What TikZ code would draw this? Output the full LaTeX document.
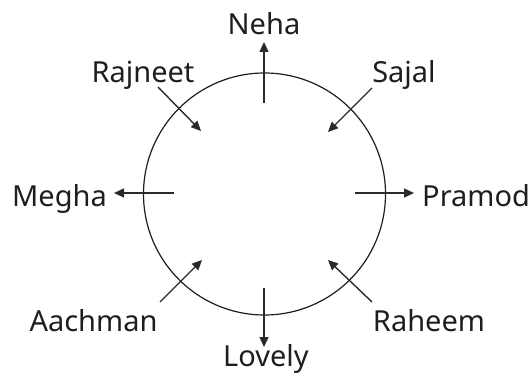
\documentclass[tikz,border=0pt]{standalone}
\usepackage{fontspec}
\setmainfont{Noto Sans}
\usetikzlibrary{arrows.meta}
\definecolor{ink}{HTML}{1E1E1E}
\definecolor{lineink}{HTML}{2A2A2A}
\begin{document}
\begin{tikzpicture}[x=1pt,y=1pt,
  lbl/.style={inner sep=0pt,text=ink,font=\fontsize{29}{32}\selectfont},
  arr/.style={draw=lineink,line width=1.4pt,-{Triangle[length=10pt,width=9pt]}},
  ring/.style={draw=ink,line width=1.2pt}]
\useasboundingbox (0,0) rectangle (530,375);
\node[ring,circle,minimum size=242pt,inner sep=0pt] (ring) at (264.5,181) {};
% labels
\node[lbl,anchor=base] (neha) at (264,340) {Neha};
\node[lbl,anchor=base] (rajneet) at (143,292) {Rajneet};
\node[lbl,anchor=base] (sajal) at (404,292) {Sajal};
\node[lbl,anchor=base east] (megha) at (107,168) {Megha};
\node[lbl,anchor=base west] (pramod) at (422,168) {Pramod};
\node[lbl,anchor=base] (aachman) at (93.5,44) {Aachman};
\node[lbl,anchor=base] (raheem) at (429,44) {Raheem};
\node[lbl,anchor=base] (lovely) at (266,9) {Lovely};
% arrow ends
\coordinate (nehaA) at (264,272);  \coordinate (nehaB) at (264,333);
\coordinate (rajA) at (158,288);   \coordinate (rajB) at (201,244);
\coordinate (sajA) at (372,287);   \coordinate (sajB) at (328,243);
\coordinate (megA) at (174,182);   \coordinate (megB) at (114,182);
\coordinate (praA) at (355,182);   \coordinate (praB) at (414,182);
\coordinate (aacA) at (160,73);    \coordinate (aacB) at (202,115);
\coordinate (rahA) at (372,73);    \coordinate (rahB) at (328,115);
\coordinate (lovA) at (264,87);    \coordinate (lovB) at (264,28);
\draw[arr] (nehaA) -- (nehaB);
\draw[arr] (rajA) -- (rajB);
\draw[arr] (sajA) -- (sajB);
\draw[arr] (megA) -- (megB);
\draw[arr] (praA) -- (praB);
\draw[arr] (aacA) -- (aacB);
\draw[arr] (rahA) -- (rahB);
\draw[arr] (lovA) -- (lovB);
\end{tikzpicture}
\end{document}
